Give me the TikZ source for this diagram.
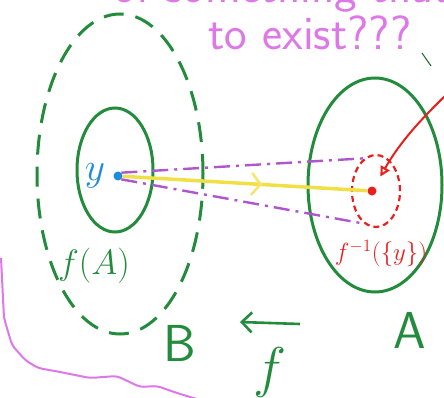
\documentclass[tikz,border=0pt]{standalone}
\usepackage{xcolor}
\usepackage{graphicx}
\usepackage{amssymb,amsmath}
\usepackage{tikz}
\usetikzlibrary{shapes.geometric, arrows.meta, positioning, decorations.markings}

\definecolor{pen}{RGB}{34,140,60}
\definecolor{pink}{RGB}{222,120,232}
\definecolor{lilac}{RGB}{175,85,205}
\definecolor{ink}{RGB}{232,32,32}
\definecolor{dotblue}{RGB}{30,140,220}
\definecolor{hilite}{RGB}{240,224,70}

\newcommand{\penmath}[2]{\scalebox{#1}{\huge$#2$}}

\begin{document}
\begin{tikzpicture}[
  x=1pt, y=-1pt,
  set/.style={draw=pen, ellipse, line width=3pt, inner sep=0pt},
  lbl/.style={text=pen, inner sep=0pt},
  pt/.style={circle, inner sep=0pt, minimum size=9pt},
  fibre/.style={draw=lilac, line width=2.4pt, dash pattern=on 16pt off 6pt on 3pt off 6pt},
  note/.style={text=pink, font=\sffamily\fontsize{48}{48}\selectfont, inner sep=0pt},
]
\useasboundingbox (0,0) rectangle (444,398);

%% Sets
\node[set, dash pattern=on 20pt off 12pt, minimum width=166pt, minimum height=320pt] (B) at (120,174) {};
\node[set, minimum width=76pt, minimum height=124pt] (fA) at (115,170) {};
\node[set, minimum width=134pt, minimum height=214pt] (A) at (375,185) {};
\node[draw=ink, ellipse, line width=2.2pt, dash pattern=on 6pt off 4pt,
      minimum width=48pt, minimum height=72pt] (pre) at (376,191) {};

%% Points
\node[pt, fill=dotblue] (ydot) at (118,176) {};
\node[pt, fill=ink] (xdot) at (372,191) {};
\node[text=dotblue, inner sep=0pt, left=8pt of ydot] (y) {\penmath{1.9}{y}};

%% Labels
\node[lbl] (fAl) at (94,266) {\penmath{1.7}{f(A)}};
\node[lbl, font=\sffamily\fontsize{52}{52}\selectfont] (Bl) at (180,343) {B};
\node[lbl, font=\sffamily\fontsize{52}{52}\selectfont] (Al) at (410,330) {A};
\node[text=ink, inner sep=0pt] (prel) at (381,254) {\penmath{1.2}{f^{-1}(\{y\})}};
\node[lbl] (fl) at (270,372) {\penmath{2.7}{f}};

%% Map arrow
\coordinate (mapR) at (300,324);
\coordinate (mapL) at (240,322);
\draw[pen, line width=2.6pt, -{Straight Barb[length=10pt, width=20pt]}] (mapR) -- (mapL);

%% Fibre lines and the path from y
\draw[fibre] (ydot.north east) -- (pre.110);
\draw[fibre] (ydot.south east) -- (pre.250);
\draw[hilite, line width=3.5pt,
  postaction={decorate, decoration={markings,
    mark=at position 0.57 with {\arrow[hilite!80!white, line width=2.5pt]{Straight Barb[length=9pt, width=22pt]}}}}]
  (ydot) -- (xdot);

%% Red arrow into the preimage
\coordinate (tail) at (446,95);
\draw[ink, line width=2pt, shorten >=12pt, -{Triangle[open, length=10pt, width=10pt]}]
  (tail) to[bend right=8] (xdot);

%% Stray stroke top right
\coordinate (s1) at (422,53);
\coordinate (s2) at (431,66);
\draw[pen!70!black, line width=1pt] (s1) -- (s2);

%% Pink scribble
\draw[pink, line width=2pt, rounded corners=4pt]
  (1,258) -- (4,318) -- (12,345) -- (25,360) -- (38,368) -- (60,372)
  -- (90,378) -- (117,376) -- (140,387) -- (157,386) -- (177,393) -- (200,400);

%% Question
\node[note, anchor=base] (q1) at (300,3) {of something that a};
\node[note, anchor=base] (q2) at (310,50) {to exist???};

\end{tikzpicture}
\end{document}
